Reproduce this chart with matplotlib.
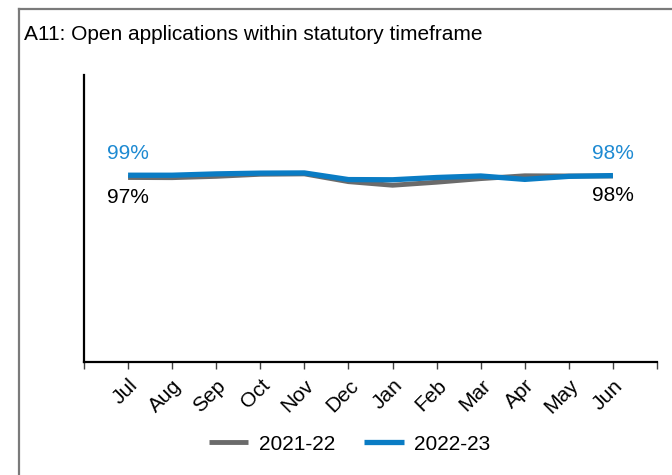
import numpy as np
from matplotlib import pyplot as plt
from matplotlib.lines import Line2D

plt.rcParams['font.family'] = ['Liberation Sans', 'DejaVu Sans']

title = 'A11: Open applications within statutory timeframe'
months = ['Jul', 'Aug', 'Sep', 'Oct', 'Nov', 'Dec',
          'Jan', 'Feb', 'Mar', 'Apr', 'May', 'Jun']
series_names = ['2021-22', '2022-23']
# share of open applications within statutory timeframe (%)
prev_year = [97.4, 97.3, 98.0, 99.1, 99.3, 95.2, 93.3, 94.9, 96.8, 98.3, 98.2, 98.2]
curr_year = [98.6, 98.6, 99.3, 99.7, 99.8, 96.3, 96.2, 97.4, 98.2, 96.4, 98.0, 98.4]

gray = '#6b6b6b'
blue = '#0a7cc4'
label_blue = '#1e8ad2'
fs = 15

fig = plt.figure(figsize=(6.72, 4.75), dpi=100)
ax = fig.add_axes([0.125, 0.2379, 0.8527, 0.6042])

x = np.arange(1, len(months) + 1)
ax.plot(x, prev_year, color=gray, lw=3.5, solid_capstyle='butt', label=series_names[0])
ax.plot(x, curr_year, color=blue, lw=3.8, solid_capstyle='butt', label=series_names[1])

ax.set_xlim(0, len(months) + 1)
ax.set_ylim(0, 151.5)
ax.set_xticks(np.arange(0, len(months) + 2))
ax.set_xticklabels([''] + months + [''], rotation=45, ha='right', va='top',
                   rotation_mode='anchor', fontsize=fs)
ax.tick_params(axis='x', length=5, width=1, direction='out', pad=5, color='#404040')
ax.set_yticks([])
for side in ['top', 'right']:
    ax.spines[side].set_visible(False)
for side in ['left', 'bottom']:
    ax.spines[side].set_linewidth(1.6)
    ax.spines[side].set_color('black')

# end labels
for idx in [0, len(months) - 1]:
    ax.annotate(f'{curr_year[idx]:.0f}%', (x[idx], curr_year[idx]),
                xytext=(0, 22), textcoords='offset pixels', ha='center', va='center',
                color=label_blue, fontsize=fs)
    ax.annotate(f'{prev_year[idx]:.0f}%', (x[idx], prev_year[idx]),
                xytext=(0, -20), textcoords='offset pixels', ha='center', va='center',
                color='black', fontsize=fs)

fig.text(24 / 672, 1 - 34 / 475, title, fontsize=fs, ha='left', va='center')

fig.legend(loc='center', bbox_to_anchor=(0.52, 1 - 444 / 475), ncol=2,
           frameon=False, fontsize=fs, handlelength=1.9,
           handletextpad=0.5, columnspacing=1.4)

# outer frame (cropped on right and bottom)
fig.add_artist(Line2D([19 / 672, 19 / 672], [0, 1 - 9 / 475], color='#7a7a7a', lw=1.6))
fig.add_artist(Line2D([19 / 672, 1], [1 - 9 / 475, 1 - 9 / 475], color='#7a7a7a', lw=1.6))

fig.savefig('out.png', dpi=100)
